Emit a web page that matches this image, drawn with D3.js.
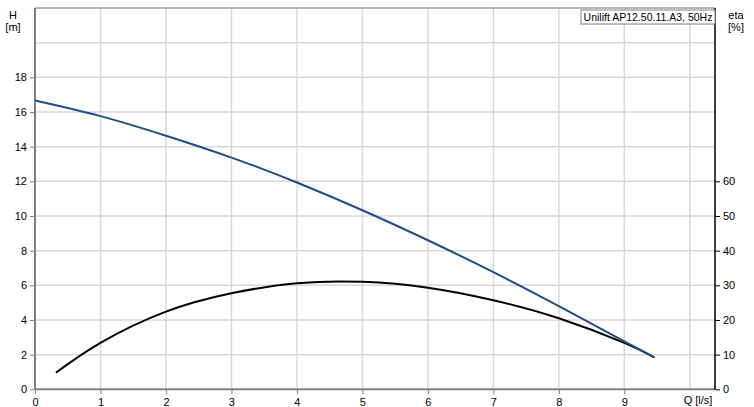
<!DOCTYPE html>
<html><head><meta charset="utf-8">
<script src="https://cdn.jsdelivr.net/npm/d3@7"></script>
<style>body{margin:0;background:#fff}svg{display:block;font-family:"Liberation Sans",Arial,sans-serif}</style>
</head><body><svg id="c" width="754" height="407"></svg>
<script>
const headQ = [0, 1, 2, 3, 4, 5, 6, 7, 8, 9, 9.46];
const headH = [16.66, 15.76, 14.63, 13.37, 11.93, 10.33, 8.6, 6.76, 4.8, 2.77, 1.84];
const etaQ = [0.32, 1, 2, 3, 4, 5, 6, 7, 8, 9, 9.46];
const etaV = [4.8, 13.4, 22.4, 27.7, 30.6, 31.0, 29.3, 25.7, 20.5, 13.4, 9.2];
const xTicks = [0,1,2,3,4,5,6,7,8,9];
const yTicks = [0,2,4,6,8,10,12,14,16,18];
const etaTicks = [0,10,20,30,40,50,60];
const legendText = "Unilift AP12.50.11.A3, 50Hz";

const svg = d3.select("#c");
const L = 35, R = 715, T = 8, B = 389.3;
const x = d3.scaleLinear().domain([0, 10.385]).range([L, R]);
const y = d3.scaleLinear().domain([0, 22]).range([B, T]);
const ye = d3.scaleLinear().domain([0, 110]).range([B, T]);

const g = svg.append("g");
g.selectAll("line.v").data(d3.range(1, 11)).enter().append("line")
  .attr("x1", d => x(d)).attr("x2", d => x(d)).attr("y1", T).attr("y2", B)
  .attr("stroke", "#d9d9d9").attr("stroke-width", 1.5);
g.selectAll("line.h").data(d3.range(2, 22, 2)).enter().append("line")
  .attr("x1", L).attr("x2", R).attr("y1", d => y(d)).attr("y2", d => y(d))
  .attr("stroke", "#d9d9d9").attr("stroke-width", 1.5);
svg.append("line").attr("x1", L).attr("x2", R).attr("y1", T).attr("y2", T).attr("stroke", "#a0a0a0").attr("stroke-width", 1.5);

const fs = "11px";
const ax = svg.append("g").attr("transform", `translate(0,${B})`)
  .call(d3.axisBottom(x).tickValues(xTicks).tickSize(5).tickPadding(4));
const ay = svg.append("g").attr("transform", `translate(${L},0)`)
  .call(d3.axisLeft(y).tickValues(yTicks).tickSize(5).tickPadding(3));
const ae = svg.append("g").attr("transform", `translate(${R},0)`)
  .call(d3.axisRight(ye).tickValues(etaTicks).tickSize(5).tickPadding(3));
[ax, ay].forEach(a => {
  a.select(".domain").attr("stroke", "#808080").attr("stroke-width", 2);
  a.selectAll(".tick line").attr("stroke", "#808080");
});
ax.select(".domain").attr("d", `M${L},0H${R}`);
ay.select(".domain").attr("d", `M0,${T}V${B}`);
ae.select(".domain").attr("stroke", "#000").attr("stroke-width", 1.5).attr("d", `M0,${T}V${B}`);
ae.selectAll(".tick line").attr("stroke", "#000");
svg.selectAll(".tick text").attr("font-size", fs).attr("fill", "#000").attr("font-family", "Liberation Sans, Arial, sans-serif");

const txt = (t, xx, yy, anchor) => svg.append("text").text(t).attr("x", xx).attr("y", yy)
  .attr("font-size", fs).attr("text-anchor", anchor || "middle").attr("fill", "#000");
txt("H", 13, 19); txt("[m]", 13, 31);
txt("eta", 736, 19); txt("[%]", 736, 31);
txt("Q [l/s]", 698, 404);

const lineH = d3.line().x((d, i) => x(headQ[i])).y(d => y(d)).curve(d3.curveNatural);
const lineE = d3.line().x((d, i) => x(etaQ[i])).y(d => ye(d)).curve(d3.curveNatural);
svg.append("path").attr("d", lineE(etaV)).attr("fill", "none").attr("stroke", "#000").attr("stroke-width", 2);
svg.append("path").attr("d", lineH(headH)).attr("fill", "none").attr("stroke", "#1d4f86").attr("stroke-width", 2);

const lg = svg.append("g");
lg.append("rect").attr("x", 581).attr("y", 10).attr("width", R - 581).attr("height", 14)
  .attr("fill", "#fff").attr("stroke", "#808080").attr("stroke-width", 1);
lg.append("text").text(legendText).attr("x", (581 + R) / 2).attr("y", 21).attr("text-anchor", "middle")
  .attr("font-size", "10.5px").attr("fill", "#000");
</script></body></html>
